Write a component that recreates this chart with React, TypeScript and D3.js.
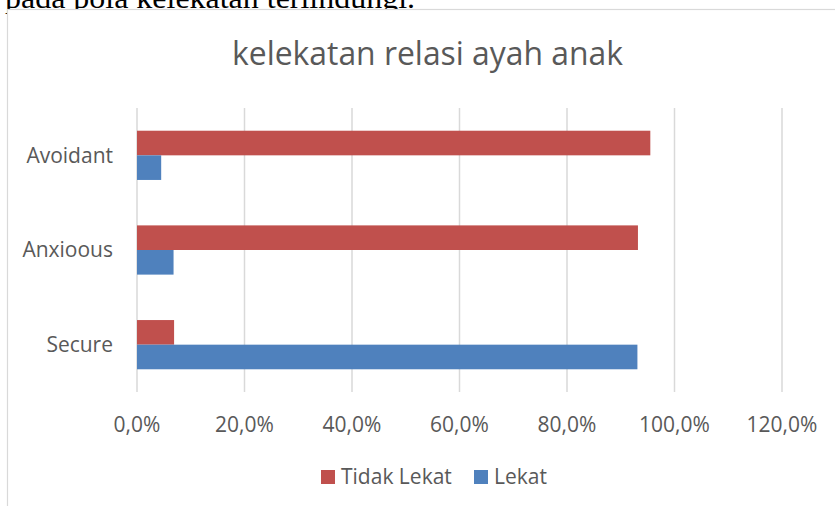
import React from "react";
import * as d3 from "d3";

const categories = ["Avoidant", "Anxioous", "Secure"];
const seriesNames = ["Tidak Lekat", "Lekat"];
const tidakLekat = [0.955, 0.932, 0.069];
const lekat = [0.045, 0.068, 0.931];
const xTicks = [0, 0.2, 0.4, 0.6, 0.8, 1.0, 1.2];
const title = "kelekatan relasi ayah anak";
const bodyText = "pada pola kelekatan terlindungi.";

const colors: Record<string, string> = { "Tidak Lekat": "#C0504D", Lekat: "#4F81BD" };
const W = 835;
const H = 506;
const FONT = "'Open Sans', sans-serif";
const TXT = "#595959";

export default function App() {
  const x = d3.scaleLinear().domain([0, 1.2]).range([137, 782]);
  const y = d3
    .scaleBand<string>()
    .domain(categories)
    .range([108, 392])
    .paddingInner(0.48)
    .paddingOuter(0.24);
  const inner = d3.scaleBand<string>().domain(seriesNames).range([0, y.bandwidth()]);
  const values: Record<string, number[]> = { "Tidak Lekat": tidakLekat, Lekat: lekat };
  const fmt = (v: number) => d3.format(".1f")(v * 100).replace(".", ",") + "%";

  return (
    <svg
      width={W}
      height={H}
      style={{ position: "absolute", left: 0, top: 0, background: "#fff" }}
    >
      <text
        x={5}
        y={7.5}
        fontFamily="'Liberation Serif', 'Times New Roman', serif"
        fontSize={30}
        textLength={410}
        lengthAdjust="spacingAndGlyphs"
        fill="#000"
      >
        {bodyText}
      </text>
      <rect x={7.5} y={9.5} width={W + 20} height={H + 20} fill="#fff" stroke="#d9d9d9" strokeWidth={1.2} />
      <text
        x={427.5}
        y={65}
        textAnchor="middle"
        fontFamily={FONT}
        fontSize={32}
        fill={TXT}
        textLength={391}
        lengthAdjust="spacingAndGlyphs"
      >
        {title}
      </text>
      {xTicks.map((t) => (
        <line
          key={"g" + t}
          x1={x(t)}
          x2={x(t)}
          y1={108}
          y2={392}
          stroke="#d9d9d9"
          strokeWidth={1.5}
        />
      ))}
      {categories.map((c, i) =>
        seriesNames.map((s) => (
          <rect
            key={c + s}
            x={x(0)}
            y={(y(c) as number) + (inner(s) as number)}
            width={x(values[s][i]) - x(0)}
            height={inner.bandwidth()}
            fill={colors[s]}
          />
        ))
      )}
      {categories.map((c) => (
        <text
          key={"c" + c}
          x={113}
          y={(y(c) as number) + y.bandwidth() / 2}
          dy="0.35em"
          textAnchor="end"
          fontFamily={FONT}
          fontSize={21}
          fill={TXT}
        >
          {c}
        </text>
      ))}
      {xTicks.map((t) => (
        <text
          key={"t" + t}
          x={x(t)}
          y={431.5}
          textAnchor="middle"
          fontFamily={FONT}
          fontSize={21}
          fill={TXT}
        >
          {fmt(t)}
        </text>
      ))}
      {seriesNames.map((s, i) => {
        const lx = i === 0 ? 321 : 474;
        return (
          <g key={"l" + s}>
            <rect x={lx} y={470} width={14} height={14} fill={colors[s]} />
            <text x={lx + 20} y={484} fontFamily={FONT} fontSize={21} fill={TXT}>
              {s}
            </text>
          </g>
        );
      })}
    </svg>
  );
}
